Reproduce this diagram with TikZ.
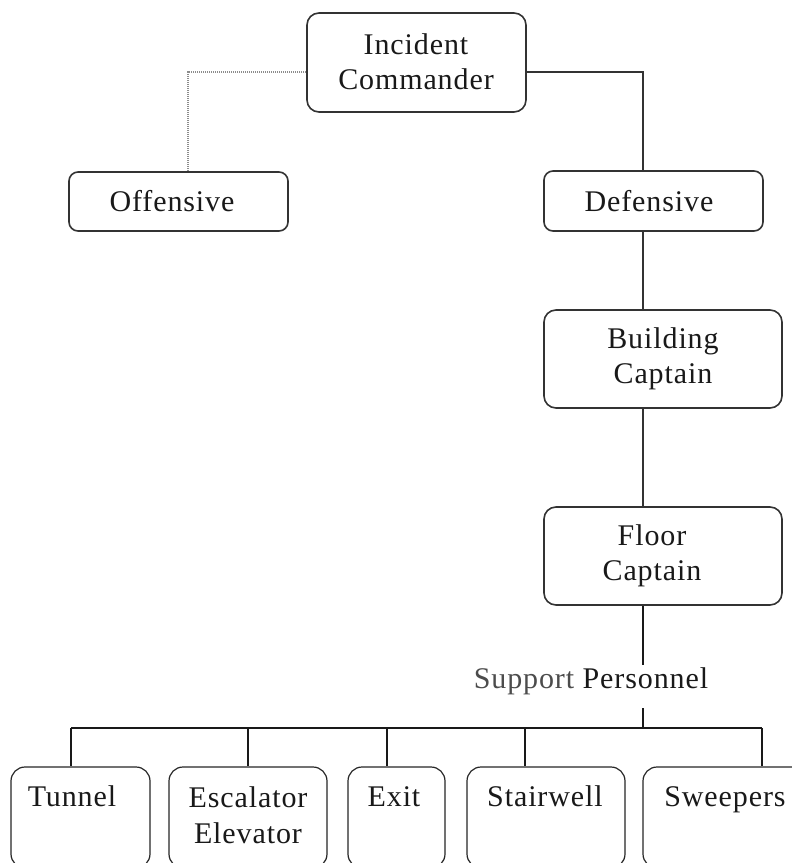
\documentclass[tikz,border=0pt]{standalone}
\usepackage{fontspec}
\setmainfont[LetterSpace=3]{Liberation Serif}
\begin{document}
\begin{tikzpicture}[x=1pt,y=-1pt,
  box/.style={draw=black!80,line width=1.6pt,rounded corners=12pt,inner sep=0pt,fill=white},
  sbox/.style={draw=black!80,line width=1.6pt,rounded corners=9pt,inner sep=0pt,fill=white},
  lbox/.style={draw=black!85,line width=1.2pt,rounded corners=14pt,inner sep=0pt,fill=white},
  txt/.style={inner sep=0pt,align=center,text=black!90,font=\fontsize{30}{35}\selectfont},
  conn/.style={draw=black!80,line width=1.4pt},
  lconn/.style={draw=black!90,line width=1.1pt},
  dotline/.style={draw=black!45,line width=1.2pt,dash pattern=on 1pt off 1pt}]
\useasboundingbox (0,0) rectangle (792,863);
\clip (0,0) rectangle (792,863);
% boxes
\node[box,minimum width=219pt,minimum height=99pt] (ic) at (416.5,62.5) {};
\node[sbox,minimum width=219pt,minimum height=59pt] (off) at (178.5,201.5) {};
\node[sbox,minimum width=219pt,minimum height=60pt] (def) at (653.5,201) {};
\node[box,minimum width=238pt,minimum height=98pt] (bc) at (663,359) {};
\node[box,minimum width=238pt,minimum height=98pt] (fc) at (663,556) {};
\node[lbox,minimum width=139pt,minimum height=101pt] (tun) at (80.5,817.5) {};
\node[lbox,minimum width=158pt,minimum height=101pt] (esc) at (248,817.5) {};
\node[lbox,minimum width=97pt,minimum height=101pt] (exit) at (396.5,817.5) {};
\node[lbox,minimum width=158pt,minimum height=101pt] (stair) at (546,817.5) {};
\node[lbox,minimum width=162pt,minimum height=101pt] (sweep) at (724,817.5) {};
% texts
\node[txt] (ict) at (416,62) {Incident\\Commander};
\node[txt] (offt) at (172,201) {Offensive};
\node[txt] (deft) at (649,201) {Defensive};
\node[txt] (bct) at (663,359) {Building\\Captain};
\node[txt] (fct) at (652,556) {Floor\\Captain};
\node[txt,anchor=base] (tunt) at (72,806) {Tunnel};
\node[txt,anchor=base] (esct1) at (248,807) {Escalator};
\node[txt,anchor=base] (esct2) at (248,843) {Elevator};
\node[txt,anchor=base] (exitt) at (394,806) {Exit};
\node[txt,anchor=base] (stairt) at (545,806) {Stairwell};
\node[txt,anchor=base] (sweept) at (725,806) {Sweepers};
\node[txt,anchor=base] (sp) at (591,688) {\textcolor{black!70}{Support} Personnel};
% connectors
\coordinate (jl) at (188,72);
\coordinate (jr) at (643,72);
\draw[dotline] (ic.west |- jl) -- (jl) -- (jl |- off.north);
\draw[conn] (ic.east |- jr) -- (jr) -- (jr |- def.north);
\draw[conn] (def.south -| jr) -- (bc.north -| jr);
\draw[conn] (bc.south -| jr) -- (fc.north -| jr);
\coordinate (spa) at (643,665);
\coordinate (spb) at (643,708);
\coordinate (bus) at (643,728);
\draw[lconn] (fc.south -| jr) -- (spa);
\draw[lconn] (spb) -- (bus);
\coordinate (d1) at (71,728);
\coordinate (d2) at (248,728);
\coordinate (d3) at (387,728);
\coordinate (d4) at (525,728);
\coordinate (d5) at (762,728);
\draw[lconn] (d1) -- (d5);
\draw[lconn] (d1) -- (d1 |- tun.north);
\draw[lconn] (d2) -- (d2 |- esc.north);
\draw[lconn] (d3) -- (d3 |- exit.north);
\draw[lconn] (d4) -- (d4 |- stair.north);
\draw[lconn] (d5) -- (d5 |- sweep.north);
\end{tikzpicture}
\end{document}
